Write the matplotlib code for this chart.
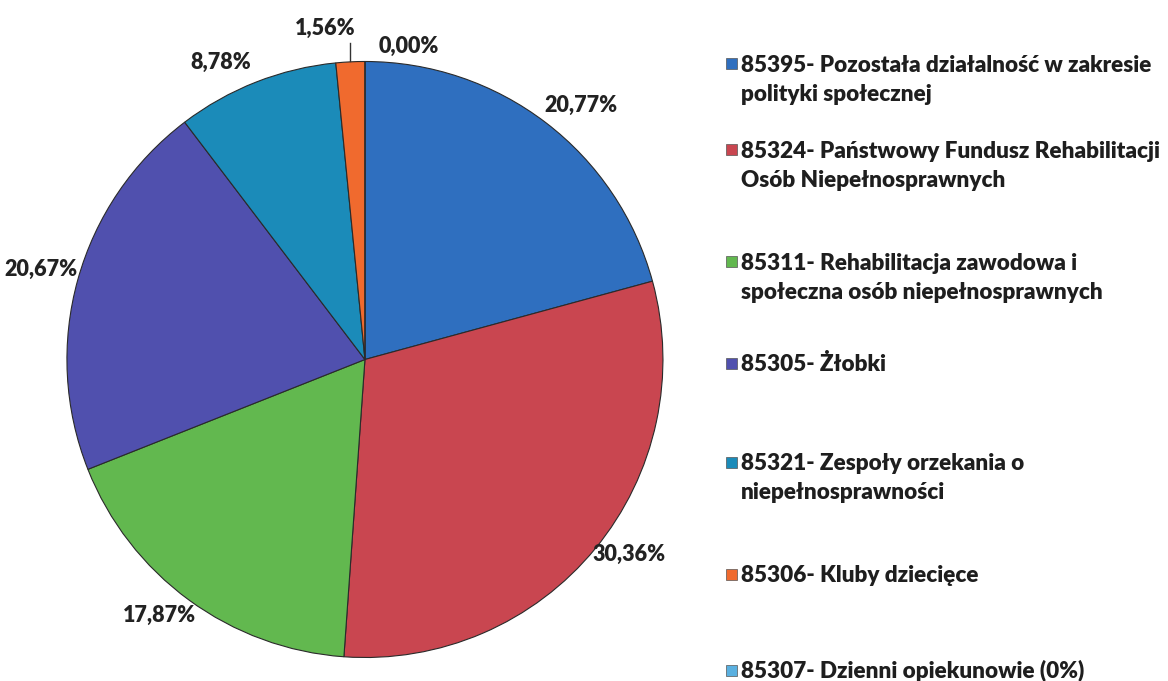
import numpy as np
import matplotlib.pyplot as plt
from matplotlib.patches import Rectangle

plt.rcParams['font.family'] = ['Lato', 'DejaVu Sans']
plt.rcParams['font.weight'] = 'bold'

# shares of each chapter (%)
labels = [
    ['85395- Pozostała działalność w zakresie', 'polityki społecznej'],
    ['85324- Państwowy Fundusz Rehabilitacji', 'Osób Niepełnosprawnych'],
    ['85311- Rehabilitacja zawodowa i', 'społeczna osób niepełnosprawnych'],
    ['85305- Żłobki'],
    ['85321- Zespoły orzekania o', 'niepełnosprawności'],
    ['85306- Kluby dziecięce'],
    ['85307- Dzienni opiekunowie (0%)'],
]
shares = [20.77, 30.36, 17.87, 20.67, 8.78, 1.56, 0.00]
colors = ['#2f6fbf', '#c94650', '#62b84f', '#5050ae', '#1b8bb9', '#f06a2e', '#5ab0e0']

# label placement: radius factor and angle nudge (deg) for each value
lab_r = [1.12, 1.10, 1.10, 1.13, 1.11, 1.12, 1.06]
lab_da = [-3, 3, -2.5, 0, 4.5, 4, -8]

fig = plt.figure(figsize=(11.68, 6.81), dpi=100)
ax = fig.add_axes([0.0573, 0.0345, 0.5103, 0.8752])

wedges, _ = ax.pie(shares, colors=colors, startangle=90, counterclock=False,
                   radius=1.0, wedgeprops=dict(edgecolor='#2a2a2a', linewidth=0.8))
ax.set_xlim(-1, 1)
ax.set_ylim(-1, 1)
ax.set_aspect('equal')
ax.axis('off')

total = sum(shares)
start = 90.0
for i, (w, v) in enumerate(zip(wedges, shares)):
    span = 360.0 * v / total
    mid_true = np.deg2rad(start - span / 2)
    mid = np.deg2rad(start - span / 2 + lab_da[i])
    start -= span
    x = lab_r[i] * np.cos(mid)
    y = lab_r[i] * np.sin(mid)
    txt = f'{v:.2f}'.replace('.', ',') + '%'
    ax.text(x, y, txt, ha='center', va='center', fontsize=15.5,
            fontweight='heavy', color='#222222', clip_on=False)
    if i == 5:
        # leader line for the thin slice
        ax.plot([np.cos(mid_true), np.cos(mid_true)], [1.0, y - 0.05],
                color='#333333', lw=1, clip_on=False)

# legend on the right
leg_y = [64, 150, 262, 363, 462, 574, 670]
for lines, c, y in zip(labels, colors, leg_y):
    fy = 1 - y / 681
    fig.patches.append(Rectangle((726 / 1168, fy - 5.5 / 681), 11 / 1168, 11 / 681,
                                 transform=fig.transFigure, facecolor=c,
                                 edgecolor='#555555', linewidth=0.5))
    for k, line in enumerate(lines):
        base = 1 - (y + 8 + 29 * k) / 681
        fig.text(741 / 1168, base, line, ha='left', va='baseline',
                 fontsize=16.2, fontweight='heavy', color='#1e1e1e')

fig.savefig('out.png', dpi=100, facecolor='white')
